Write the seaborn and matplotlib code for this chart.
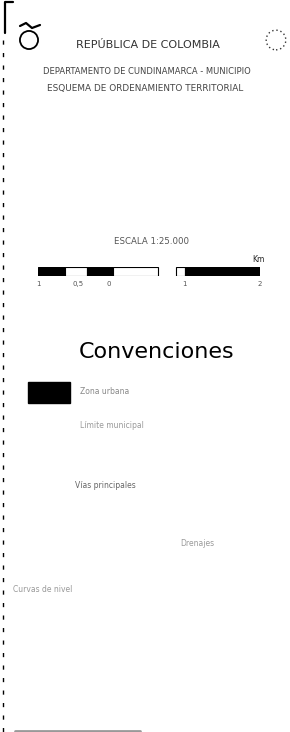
import matplotlib
matplotlib.use("Agg")
import matplotlib.pyplot as plt
import seaborn as sns
import pandas as pd

# header texts
header_lines = ["REPÚBLICA DE COLOMBIA",
                "DEPARTAMENTO DE CUNDINAMARCA - MUNICIPIO",
                "ESQUEMA DE ORDENAMIENTO TERRITORIAL"]

# scale bar (km)
scale_edges = [0, 0.6, 1.1, 1.7, 2.7, 3.1, 3.3, 5.0]
scale_fill = [1, 0, 1, 0, -1, 0, 1]   # 1 black, 0 white, -1 gap
scale_ticks = [0, 0.9, 1.6, 3.3, 5.0]
scale_tick_labels = ["1", "0,5", "0", "1", "2"]
scale_title = "ESCALA 1:25.000"
scale_unit = "Km"

# legend
legend_title = "Convenciones"
legend_items = ["Zona urbana", "Límite municipal", "Vías principales",
                "Drenajes", "Curvas de nivel"]

sns.set_theme(style="white")
plt.rcParams['font.family'] = ['DejaVu Sans']

fig = plt.figure(figsize=(2.9, 7.32), dpi=100)
ax = fig.add_axes([0, 0, 1, 1])
ax.set_xlim(0, 290)
ax.set_ylim(732, 0)
ax.axis("off")

# frame corner and dashed left border
ax.plot([5, 5, 13], [33, 2, 2], color="black", lw=1.6)
ax.plot([3, 3], [40, 732], color="black", lw=1.0, ls=(0, (3, 6)))

# emblems
ax.scatter([29], [40], s=170, facecolors="none", edgecolors="black", lw=1.3)
ax.plot([20, 26, 32, 40], [26, 23, 28, 25], color="black", lw=1.6)
ax.scatter([276], [40], s=200, facecolors="none", edgecolors="#333333",
           lw=1.0, linestyle=(0, (1, 2)))

# header text
ax.text(148, 45, header_lines[0], ha="center", va="center", fontsize=8,
        color="#333333")
ax.text(147, 72, header_lines[1], ha="center", va="center", fontsize=6.0,
        color="#444444")
ax.text(145, 88, header_lines[2], ha="center", va="center", fontsize=6.4,
        color="#444444")

# scale bar in its own axes (km units)
sax = fig.add_axes([38 / 290, 1 - 276 / 732, 222 / 290, 9 / 732])
sax.set_xlim(scale_edges[0], scale_edges[-1])
sax.set_ylim(0, 1)
sax.axis("off")
seg = pd.DataFrame({"left": scale_edges[:-1],
                    "width": [b - a for a, b in zip(scale_edges[:-1], scale_edges[1:])],
                    "fill": scale_fill})
for _, r in seg.iterrows():
    if r["fill"] < 0:
        continue
    sax.barh(0.5, r["width"], left=r["left"], height=1.0,
             color="black" if r["fill"] == 1 else "white",
             edgecolor="black", lw=0.8)
ax.text(152, 242, scale_title, ha="center", va="center", fontsize=6.2,
        color="#555555")
ax.text(258, 260, scale_unit, ha="center", va="center", fontsize=5.5,
        color="#222222")
for t, lab in zip(scale_ticks, scale_tick_labels):
    px = 38 + t / scale_edges[-1] * 222
    ax.text(px, 284, lab, ha="center", va="center", fontsize=5.0,
            color="#555555")

# legend
ax.text(157, 352, legend_title, ha="center", va="center", fontsize=16,
        color="black")
ax.add_patch(plt.Rectangle((28, 382), 42, 21, color="black"))
ax.text(80, 392, legend_items[0], ha="left", va="center", fontsize=5.5,
        color="#888888")
ax.text(80, 425, legend_items[1], ha="left", va="center", fontsize=5.5,
        color="#999999")
ax.text(75, 485, legend_items[2], ha="left", va="center", fontsize=5.5,
        color="#666666")
ax.text(180, 543, legend_items[3], ha="left", va="center", fontsize=5.5,
        color="#999999")
ax.text(13, 589, legend_items[4], ha="left", va="center", fontsize=5.5,
        color="#999999")

# bottom strip
ax.plot([15, 140], [731, 731], color="#999999", lw=2)

fig.savefig("out.png", dpi=100)
